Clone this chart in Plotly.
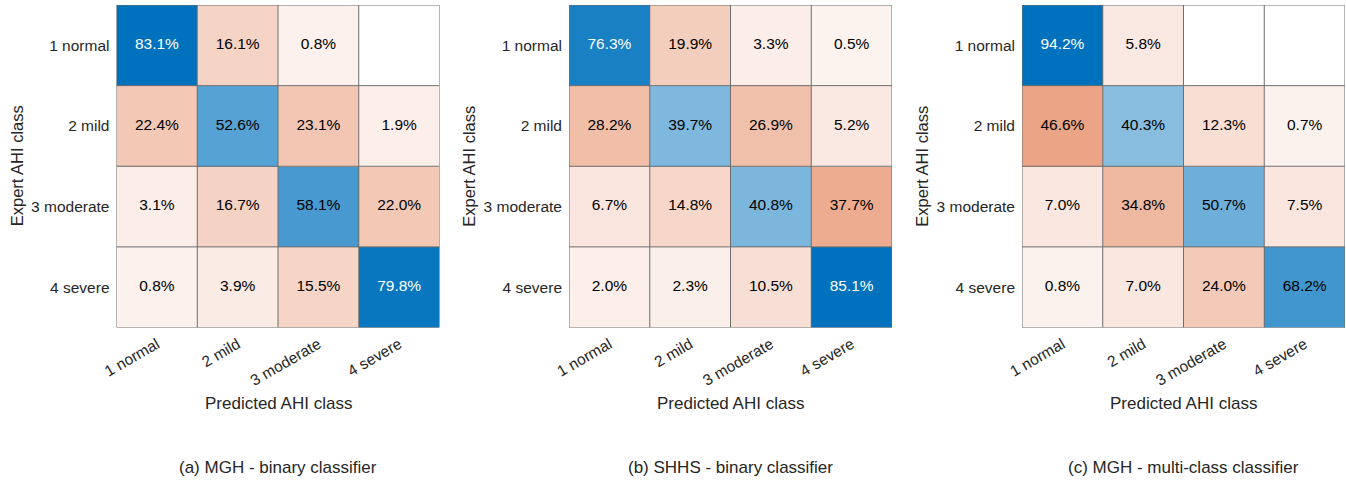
import plotly.graph_objects as go

# Row-normalised confusion matrices (percent); None = empty cell
classes = ["1 normal", "2 mild", "3 moderate", "4 severe"]

mgh_binary = [
    [83.1, 16.1, 0.8, None],
    [22.4, 52.6, 23.1, 1.9],
    [3.1, 16.7, 58.1, 22.0],
    [0.8, 3.9, 15.5, 79.8],
]
shhs_binary = [
    [76.3, 19.9, 3.3, 0.5],
    [28.2, 39.7, 26.9, 5.2],
    [6.7, 14.8, 40.8, 37.7],
    [2.0, 2.3, 10.5, 85.1],
]
mgh_multiclass = [
    [94.2, 5.8, None, None],
    [46.6, 40.3, 12.3, 0.7],
    [7.0, 34.8, 50.7, 7.5],
    [0.8, 7.0, 24.0, 68.2],
]

panels = [
    (mgh_binary, "(a) MGH - binary classifier", (116.5, 439.5)),
    (shhs_binary, "(b) SHHS - binary classifier", (569.0, 892.0)),
    (mgh_multiclass, "(c) MGH - multi-class classifier", (1022.0, 1345.0)),
]

W, H = 1346, 482
GRID_TOP, GRID_BOTTOM = 5.0, 327.5
FONT = "Liberation Sans, Arial, Helvetica, sans-serif"
TXT = "#262626"
LINE = "#6e6e6e"
BLUE = "#0072BD"
ORANGE = "#D95319"
MIN_TINT = 0.07  # smallest non-empty cell still gets a faint tint

fig = go.Figure()
annotations = []
shapes = []
n = len(classes)

for k, (mat, caption, (x0px, x1px)) in enumerate(panels):
    sfx = "" if k == 0 else str(k + 1)
    xa, ya = "x" + sfx, "y" + sfx
    vmax = max(v for row in mat for v in row if v is not None)

    # intensity relative to the panel maximum; sign picks the colour:
    # diagonal -> blue, off-diagonal -> orange, empty -> white
    z = []
    for i, row in enumerate(mat):
        zr = []
        for j, v in enumerate(row):
            if v is None:
                zr.append(0.0)
            else:
                a = MIN_TINT + (1 - MIN_TINT) * v / vmax
                zr.append(a if i == j else -a)
        z.append(zr)

    fig.add_trace(go.Heatmap(
        z=z, x=list(range(n)), y=list(range(n)),
        zmin=-1, zmax=1,
        colorscale=[[0, ORANGE], [0.5, "#FFFFFF"], [1, BLUE]],
        showscale=False, hoverinfo="skip",
        xaxis=xa, yaxis=ya,
    ))

    tx, ty, tt, tc = [], [], [], []
    for i, row in enumerate(mat):
        for j, v in enumerate(row):
            if v is None:
                continue
            tx.append(j)
            ty.append(i)
            tt.append(f"{v:.1f}%")
            tc.append("#FFFFFF" if (i == j and v / vmax > 0.8) else "#000000")
    fig.add_trace(go.Scatter(
        x=tx, y=ty, text=tt, mode="text",
        textfont=dict(family=FONT, size=15.5, color=tc),
        hoverinfo="skip", showlegend=False,
        xaxis=xa, yaxis=ya,
    ))

    # cell borders
    for b in range(n + 1):
        pos = b - 0.5
        shapes.append(dict(type="line", xref=xa, yref=ya, x0=pos, x1=pos,
                           y0=-0.5, y1=n - 0.5, line=dict(color=LINE, width=1)))
        shapes.append(dict(type="line", xref=xa, yref=ya, y0=pos, y1=pos,
                           x0=-0.5, x1=n - 0.5, line=dict(color=LINE, width=1)))

    dom_x = [x0px / W, x1px / W]
    dom_y = [(H - GRID_BOTTOM) / H, (H - GRID_TOP) / H]
    fig.layout["xaxis" + sfx] = dict(
        domain=dom_x, anchor=ya, range=[-0.5, n - 0.5],
        tickvals=list(range(n)), ticktext=classes, tickangle=-30,
        showgrid=False, zeroline=False, showline=False, ticks="",
        tickfont=dict(family=FONT, size=15.5, color=TXT),
        ticklabelstandoff=4, fixedrange=True, automargin=False,
    )
    fig.layout["yaxis" + sfx] = dict(
        domain=dom_y, anchor=xa, range=[n - 0.5, -0.5],
        tickvals=list(range(n)), ticktext=classes,
        showgrid=False, zeroline=False, showline=False, ticks="",
        tickfont=dict(family=FONT, size=15.5, color=TXT),
        ticklabelstandoff=6, fixedrange=True, automargin=False,
    )

    cx = (x0px + x1px) / 2 / W
    annotations.append(dict(text="Predicted AHI class", x=cx, y=(H - 403) / H,
                            xref="paper", yref="paper", showarrow=False,
                            xanchor="center", yanchor="middle",
                            font=dict(family=FONT, size=17, color=TXT)))
    annotations.append(dict(text=caption, x=cx, y=(H - 467) / H,
                            xref="paper", yref="paper", showarrow=False,
                            xanchor="center", yanchor="middle",
                            font=dict(family=FONT, size=17, color=TXT)))
    annotations.append(dict(text="Expert AHI class", x=(x0px - 99.5) / W,
                            y=(H - (GRID_TOP + GRID_BOTTOM) / 2) / H,
                            xref="paper", yref="paper", showarrow=False,
                            textangle=-90, xanchor="center", yanchor="middle",
                            font=dict(family=FONT, size=16.5, color=TXT)))

fig.update_layout(
    width=W, height=H,
    margin=dict(l=0, r=0, t=0, b=0, autoexpand=False),
    paper_bgcolor="white", plot_bgcolor="white",
    showlegend=False,
    annotations=annotations, shapes=shapes,
)

fig.write_html("out.html", config={"displayModeBar": False})
